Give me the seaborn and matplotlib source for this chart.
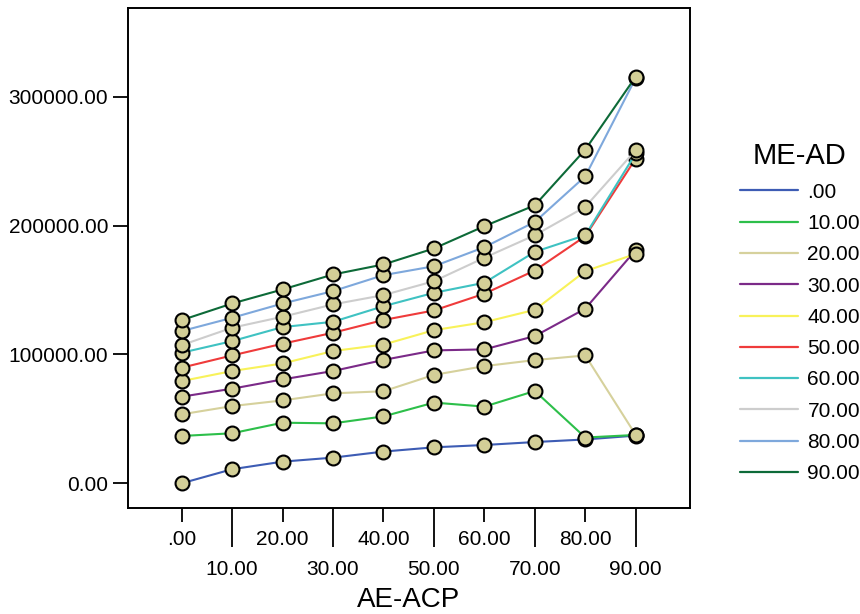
import pandas as pd
import numpy as np
import matplotlib
matplotlib.use("Agg")
import matplotlib.pyplot as plt
import seaborn as sns
from matplotlib.lines import Line2D


# AE-ACP categories on the x axis
ae_acp = [".00", "10.00", "20.00", "30.00", "40.00", "50.00", "60.00", "70.00", "80.00", "90.00"]
# ME-AD groups (one line each)
me_ad = [".00", "10.00", "20.00", "30.00", "40.00", "50.00", "60.00", "70.00", "80.00", "90.00"]

me_00 = [0, 10900, 16800, 19900, 24600, 27900, 29700, 32000, 34000, 37000]
me_10 = [36700, 38800, 47000, 46500, 51900, 62600, 59500, 71600, 35500, 37500]
me_20 = [53500, 59900, 64300, 69800, 71400, 84100, 90900, 95600, 99200, 37500]
me_30 = [67200, 73400, 80600, 87100, 95700, 103100, 103900, 114200, 135500, 181000]
me_40 = [79300, 87100, 93000, 102600, 107600, 118800, 125000, 134600, 164600, 178000]
me_50 = [89700, 99200, 108300, 116800, 126700, 134100, 147100, 165100, 191700, 252000]
me_60 = [101300, 110300, 121200, 125300, 137400, 147800, 155600, 179600, 192500, 256000]
me_70 = [107200, 120700, 129200, 138800, 146000, 156800, 175000, 192500, 214500, 258500]
me_80 = [118100, 128400, 139500, 149100, 161500, 168400, 183200, 202800, 238200, 314500]
me_90 = [126600, 139500, 150400, 162000, 169800, 182200, 199500, 215700, 258900, 315500]

y_ticks = [0, 100000, 200000, 300000]
y_tick_labels = ["0.00", "100000.00", "200000.00", "300000.00"]

colors = ["#3d5cb4", "#2dbf4a", "#d6d19c", "#7b2a88", "#f8f25a",
          "#ef3b3b", "#3fc2c2", "#cdcdcd", "#7ea8dc", "#0d6a38"]

series = [me_00, me_10, me_20, me_30, me_40, me_50, me_60, me_70, me_80, me_90]
rows = []
for grp, vals in zip(me_ad, series):
    for i, v in enumerate(vals):
        rows.append({"AE-ACP": i, "ME-AD": grp, "value": v})
df = pd.DataFrame(rows)

sns.set_style("white")
plt.rcParams["font.family"] = ["Liberation Sans", "DejaVu Sans"]
plt.rcParams["text.color"] = "black"
plt.rcParams["axes.labelcolor"] = "black"
plt.rcParams["xtick.color"] = "black"
plt.rcParams["ytick.color"] = "black"

fig = plt.figure(figsize=(8.6, 6.14), dpi=100)
ax = fig.add_axes([0.1485, 0.1726, 0.6535, 0.8144])

sns.lineplot(data=df, x="AE-ACP", y="value", hue="ME-AD", hue_order=me_ad,
             palette=colors, marker="o", markersize=10, markerfacecolor="#d3cf97",
             markeredgecolor="black", markeredgewidth=1.5, linewidth=1.5,
             legend=False, ax=ax)

ax.set_xlim(-1.07, 10.07)
ax.set_ylim(-19200, 368800)

for s in ax.spines.values():
    s.set_visible(True)
    s.set_color("black")
    s.set_linewidth(1.4)

ax.set_yticks(y_ticks, labels=y_tick_labels)
ax.tick_params(axis="y", direction="out", length=11, width=1.3, pad=3,
               labelsize=15, left=True)

even = list(range(0, 10, 2))
odd = list(range(1, 10, 2))
ax.set_xticks(even, labels=[ae_acp[i] for i in even])
ax.set_xticks(odd, labels=[ae_acp[i] for i in odd], minor=True)
ax.tick_params(axis="x", which="major", direction="out", length=10, width=1.3,
               pad=6, labelsize=15, bottom=True)
ax.tick_params(axis="x", which="minor", direction="out", length=28, width=1.3,
               pad=9.5, labelsize=15, bottom=True)

ax.set_xlabel("AE-ACP", fontsize=20, labelpad=5.5)
ax.set_ylabel("")

handles = [Line2D([0], [0], color=c, lw=1.6) for c in colors]
leg = fig.legend(handles, me_ad, title="ME-AD", loc="upper left",
                 bbox_to_anchor=(0.848, 0.785), frameon=False,
                 fontsize=15, title_fontsize=21, handlelength=2.8,
                 handletextpad=0.45, labelspacing=0.59, borderpad=0)
leg._legend_box.align = "center"

fig.savefig("out.png", dpi=100)
